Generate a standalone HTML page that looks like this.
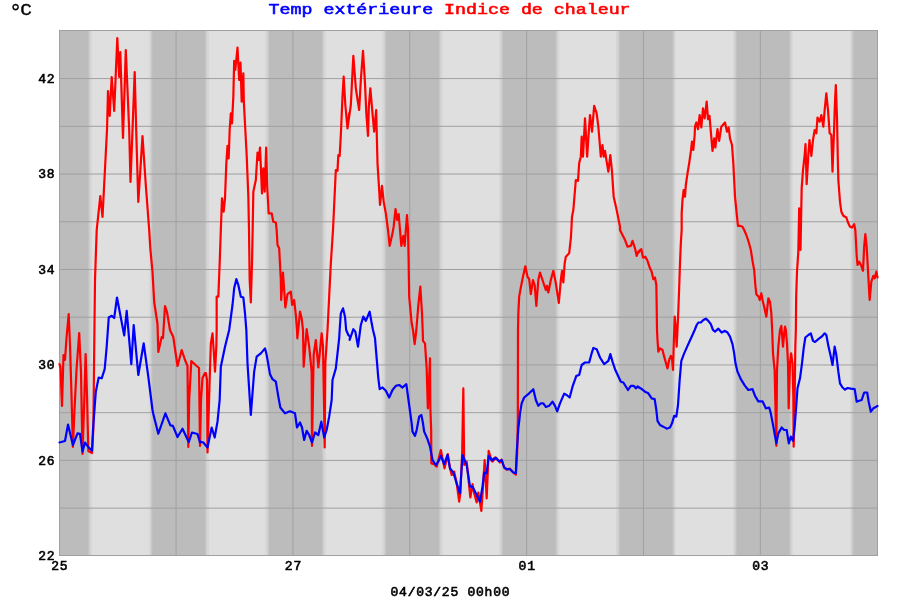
<!DOCTYPE html>
<html lang="fr"><head><meta charset="utf-8"><title>Temp extérieure / Indice de chaleur</title>
<style>
html,body{margin:0;padding:0;background:#fff;}
body{width:900px;height:600px;overflow:hidden;position:relative;font-family:"Liberation Mono",monospace;font-weight:bold;}
svg{position:absolute;left:0;top:0;display:block;}
text{font-family:"Liberation Mono",monospace;font-weight:normal;}
.ax{font-size:14px;fill:#000;}
.tt{font-size:18.3px;}
</style></head><body>
<svg width="900" height="600" viewBox="0 0 900 600">
<defs>
<linearGradient id="dl" x1="0" x2="1" y1="0" y2="0"><stop offset="0" stop-color="#bcbcbc"/><stop offset="1" stop-color="#dfdfdf"/></linearGradient>
<linearGradient id="ld" x1="0" x2="1" y1="0" y2="0"><stop offset="0" stop-color="#dfdfdf"/><stop offset="1" stop-color="#bcbcbc"/></linearGradient>
<clipPath id="cp"><rect x="59" y="30" width="819" height="526"/></clipPath>
</defs>
<rect x="0" y="0" width="900" height="600" fill="#ffffff"/>
<rect x="59" y="30" width="819" height="526" fill="#bcbcbc"/>
<g clip-path="url(#cp)">
<rect x="87.7" y="30" width="4" height="526" fill="url(#dl)"/>
<rect x="91.7" y="30" width="57.2" height="526" fill="#dfdfdf"/>
<rect x="148.9" y="30" width="4" height="526" fill="url(#ld)"/>
<rect x="204.557" y="30" width="4" height="526" fill="url(#dl)"/>
<rect x="208.557" y="30" width="57.2" height="526" fill="#dfdfdf"/>
<rect x="265.757" y="30" width="4" height="526" fill="url(#ld)"/>
<rect x="321.414" y="30" width="4" height="526" fill="url(#dl)"/>
<rect x="325.414" y="30" width="57.2" height="526" fill="#dfdfdf"/>
<rect x="382.614" y="30" width="4" height="526" fill="url(#ld)"/>
<rect x="438.271" y="30" width="4" height="526" fill="url(#dl)"/>
<rect x="442.271" y="30" width="57.2" height="526" fill="#dfdfdf"/>
<rect x="499.471" y="30" width="4" height="526" fill="url(#ld)"/>
<rect x="555.129" y="30" width="4" height="526" fill="url(#dl)"/>
<rect x="559.129" y="30" width="57.2" height="526" fill="#dfdfdf"/>
<rect x="616.329" y="30" width="4" height="526" fill="url(#ld)"/>
<rect x="671.986" y="30" width="4" height="526" fill="url(#dl)"/>
<rect x="675.986" y="30" width="57.2" height="526" fill="#dfdfdf"/>
<rect x="733.186" y="30" width="4" height="526" fill="url(#ld)"/>
<rect x="788.843" y="30" width="4" height="526" fill="url(#dl)"/>
<rect x="792.843" y="30" width="57.2" height="526" fill="#dfdfdf"/>
<rect x="850.043" y="30" width="4" height="526" fill="url(#ld)"/>
</g>
<g fill="#a0a0a0"><rect x="60" y="507.62" width="817" height="1"/><rect x="60" y="459.90" width="817" height="1"/><rect x="60" y="412.17" width="817" height="1"/><rect x="60" y="364.44" width="817" height="1"/><rect x="60" y="316.71" width="817" height="1"/><rect x="60" y="268.99" width="817" height="1"/><rect x="60" y="221.26" width="817" height="1"/><rect x="60" y="173.53" width="817" height="1"/><rect x="60" y="125.80" width="817" height="1"/><rect x="60" y="78.08" width="817" height="1"/><rect x="175.56" y="31" width="1" height="524"/><rect x="292.41" y="31" width="1" height="524"/><rect x="409.27" y="31" width="1" height="524"/><rect x="526.13" y="31" width="1" height="524"/><rect x="642.99" y="31" width="1" height="524"/><rect x="759.84" y="31" width="1" height="524"/></g>

<g fill="#a0a0a0" shape-rendering="crispEdges"><rect x="59" y="30" width="819" height="1"/><rect x="59" y="555" width="819" height="1"/><rect x="59" y="30" width="1" height="526"/><rect x="877" y="30" width="1" height="526"/></g>
<path d="M59.5,364 L60.5,368 L62,406 L63.5,355 L65,360 L66.5,338 L68.7,314 L70,345 L71.5,395 L72.9,447 L74.5,410 L76.5,370 L79.2,333 L81,372 L82.5,454 L84.3,400 L85.6,354 L87,395 L88.3,451 L92,453 L93.3,430 L94.2,350 L95,280 L96.7,230 L100.3,196 L102.5,217 L107,130 L108,91 L109.7,116 L111.7,77 L114.2,111 L117.3,38 L119.2,77 L120.3,52 L123,138 L125.8,50 L129.2,130 L130.5,182 L132.5,130 L134.7,72 L136.2,130 L138.3,202 L142.5,136 L145.8,185 L149.2,230 L150.3,248 L152.5,272 L154.2,302 L157.5,324 L158.3,352 L161.7,337 L163,338 L165,306 L167,312 L170,330 L173.3,337 L177.5,366 L181.7,350 L185,360 L187.5,366 L188.3,447 L189.2,400 L191.3,361 L196.7,366 L199,368 L200,446 L201,400 L202.5,378 L205,373 L205.83,373 L207,380 L207.5,452.5 L209.67,380 L210.83,343.33 L212.5,333.33 L213.67,350 L215,371.67 L216.33,346.67 L216.67,330 L216.67,296.67 L218.33,296.67 L219.67,263.33 L220.83,230 L222,198.33 L223.67,211.67 L225,198.33 L226.33,163.33 L227.5,145.83 L228.67,158.33 L229.67,130 L230.83,113.33 L232,123.33 L233.33,96.67 L234.17,60.83 L235.33,70 L237.5,47.5 L239.17,80 L240.5,62.5 L241.67,101.67 L243.33,73.33 L243.83,101.67 L245.33,130 L246.67,155 L248.33,196.67 L249,230 L249.67,280 L250.83,302.5 L252,263.33 L252.67,230 L253.33,191.67 L255.83,180 L257.5,152.5 L258.67,160 L260,147.5 L262,193.33 L263.33,168.33 L264.67,191.67 L266.17,147.5 L267.17,186.67 L268.67,213.33 L271.67,213.33 L273.33,221.67 L275.83,222.5 L276.67,230 L277.5,245 L279.17,248.33 L280.83,280 L281.17,300 L283,272.5 L284.17,290 L285.33,307.5 L287.5,294.17 L290.83,291.67 L292.17,305 L294.17,300 L295.83,315 L297,330 L297.33,338.33 L300,311.67 L301.67,318.33 L303,330 L303.67,366.67 L306.67,329.17 L309.17,346.67 L311.67,371.67 L312,446 L313.67,355 L315.83,340 L318.33,367.5 L321.67,333.33 L323,346.67 L324.7,447.5 L325.33,363.33 L327.5,330 L329.17,296.67 L330.83,263.33 L333,230 L334.17,205 L335.83,170 L337.5,170.83 L338.33,155 L339.67,155.83 L340.83,135 L342.5,96.67 L343.67,76.67 L345.33,105 L347.5,128.33 L349.17,113.33 L347.5,128.33 L350.83,105 L353.33,55.83 L355.83,88.33 L359.17,110 L360.83,80 L363,50.83 L365,83.33 L366.33,113.33 L368,135.83 L368.83,106.67 L370.33,88.33 L372.5,113.33 L374.17,131.67 L376.17,110 L376.67,130 L377.5,163.33 L379.17,190 L380,205 L382,185.83 L383.67,201.67 L385.83,213.33 L388,230 L389.67,245.83 L392.5,233.33 L393.67,226.67 L395.5,209.17 L397.17,220 L398.67,214.17 L400,230 L401.33,245.83 L403.33,235.83 L404.67,245.83 L405.83,230 L407,215 L408,230 L408.67,263.33 L409.17,296.67 L411.67,323.33 L413,330 L414.67,344.17 L416.33,330 L418.33,305 L420.33,286.67 L422,313.33 L422.67,330 L423,340.83 L425,343.33 L426.67,368.33 L427.83,408.33 L430,358.33 L430.33,406.67 L431.17,430 L431.33,463.33 L434.17,464.17 L436.67,466.67 L440.83,450 L444.5,468.33 L447.83,454.17 L450,468.33 L451.67,475 L454.17,471.67 L456.67,483.33 L459.17,501.67 L460.33,493.33 L462.17,453.33 L463.33,388.33 L464.17,465 L466.67,461.67 L470.33,497.5 L472.5,484.17 L474.17,493.33 L476.67,502.5 L478.33,492.5 L481.33,510.83 L483,486.67 L484.67,460 L486.67,498.33 L488.67,450.83 L491.67,460.83 L495,457.5 L492.5,461.67 L495.83,457.5 L500,462.5 L501.67,459.67 L504.17,467.5 L506.67,469.67 L510,468.67 L513.33,472.5 L515.83,474.67 L517.17,453.33 L517.83,420 L518,330 L518.33,313.33 L519.17,296.67 L520.83,287.5 L523.33,275 L525.33,266.33 L527.5,276.67 L529.17,279.17 L530.83,294.17 L533,280 L534.67,285 L536.33,305.83 L538.33,280 L540,272.5 L542.5,280 L545.83,290 L547,285.83 L548.33,292.5 L550.83,280 L553.33,270.83 L555.83,283.33 L558.83,303 L560.83,280 L562,270.83 L563.33,282.5 L564.67,263.33 L565.83,256.67 L569.17,253.33 L570.83,238.33 L571.33,230 L572,216.67 L573.33,210 L575.83,180 L578,180.83 L579.17,163.33 L580.83,156.67 L581.67,136.67 L583,156.67 L585,118.33 L587.17,156.67 L588.67,133.33 L590,115 L592,131.67 L594.17,105.83 L596.67,113.33 L598.33,126.67 L600.83,156.67 L602.5,145 L603.67,156.67 L605,150.83 L606.67,161.67 L608.33,171.67 L610.33,155 L612,171.67 L613.67,196.67 L616.67,210 L620,226.67 L620,230 L622.5,235 L624.67,239.17 L627.5,246.67 L630.83,245.83 L632.5,240.83 L635,248.33 L636.67,255.83 L638.33,251.67 L640,250.83 L637,254.17 L639.17,250.83 L641.33,249.17 L643,257.5 L645.33,256.67 L647.5,260.83 L650,268.33 L651.67,271.67 L653.33,279.17 L655,277.5 L656.33,285 L656.67,305 L657,330 L657.5,340 L658.33,351.67 L660,348.33 L662.5,350 L664.17,356.67 L665.83,362.5 L667.5,368.33 L669.17,360 L670.83,355.83 L672,358.33 L673,370 L673.67,346.67 L674.67,316.67 L675.83,328.33 L676.67,346.67 L677.5,330 L678.33,310 L679.17,288.33 L680,263.33 L680.83,243.33 L681.67,230 L681.67,213.33 L682.5,200 L683.67,190 L685,196.67 L685.83,185 L687.5,173.33 L689.17,163.33 L690.83,151.67 L692,141.67 L693.33,150 L694.67,135 L695,126.67 L696.33,122.5 L698,129.17 L699.67,115 L701.33,127.5 L703,108.33 L704.67,118.33 L706.67,101.67 L708,119.17 L709.5,115.83 L710.83,131.67 L712.5,150.83 L714.17,138.33 L715.33,147.5 L717.5,129.17 L719.17,140.83 L721.33,126.67 L725,122.5 L727,131.67 L728.67,127.5 L730,138.33 L732,145 L733.33,163.33 L734.17,180 L735,196.67 L736.67,213.33 L738,225.83 L740,225.83 L742.5,226.67 L744.17,230 L746.33,235 L748.33,240.83 L750.83,250 L752.5,260.83 L754.17,270 L755.33,285 L756.33,294.17 L758.67,296.67 L759.67,300 L761.33,293.33 L762.5,300 L764.17,306.67 L766.33,316.67 L768.33,298.33 L770,301.67 L771.33,313.33 L772.17,330 L773,353.33 L774.67,370.83 L776.33,445.83 L777,370 L778.33,346.67 L780,330 L781.33,325.83 L783,346.67 L784.17,333.33 L785,326.67 L785.83,330 L787,343.33 L788,363.33 L788.67,408.33 L790,363.33 L791.17,353.33 L792.5,363.33 L793.33,396.67 L793.67,446.67 L794.67,396.67 L795.33,346.67 L795.83,330 L796.17,296.67 L797,271.67 L798.33,251.67 L799.17,208.33 L800.5,250 L801.67,188.33 L803,170 L804.67,155 L805.5,144.17 L806.67,184.17 L808.33,155 L809.5,140 L811.33,155.83 L813,140 L814.67,130 L816.33,133.33 L817.5,117.5 L819.67,121.67 L821.33,115 L823.33,126.67 L824.67,110 L826.33,93.33 L828,110 L829.67,133.33 L831.33,135 L832.5,171.67 L834.17,126.67 L835,101.67 L835.83,85 L837,118.33 L837.83,160 L838.33,180 L840,201.67 L841.33,211.67 L843.33,215.83 L846.33,217.5 L848.33,223.33 L850,226.67 L852,227.5 L854.17,224.17 L855.33,230 L856.67,255 L857.5,265 L859.17,261.67 L861.33,265.83 L863,270.83 L864.17,246.67 L865.33,234.17 L866.67,246.67 L868.33,276.67 L869.67,300 L871.33,281.67 L873.33,275.83 L874.67,278.33 L876.33,271.67 L877.5,277.5" fill="none" stroke="#ff0000" stroke-width="2.2" stroke-linejoin="round" stroke-linecap="round"/>
<path d="M59.5,442.5 L65,441 L68,424.6 L72.9,445 L77.5,433.3 L80,433.75 L82.5,451.7 L85,442.5 L88,446.7 L92,450.8 L93,430 L95.8,391.7 L98.7,377.5 L101.7,378.3 L104.7,369 L106.7,346.7 L108.75,317.5 L111.7,315.8 L114.2,318 L117,297.5 L124.2,335.4 L126.7,310.8 L131.3,364.2 L133.7,325 L138.3,375 L143.7,343.3 L148.3,376.7 L152.5,410 L153.3,414 L158.3,433.75 L165.4,413.3 L170.4,425.4 L172.9,425.8 L177.5,437 L182.5,428.75 L188.75,442 L192,432.5 L197.5,434 L200,442.5 L200,441.67 L203.33,442.5 L207.5,447.5 L211.67,427.5 L214.67,437.5 L217.5,421.67 L219.67,400 L220.83,366.67 L225,346.67 L229.17,330 L232.5,305 L234.17,288.33 L236.33,279.17 L238.33,285 L240.83,296.67 L243.33,297.5 L245,313.33 L246.33,330 L247.5,363.33 L250.83,415 L254.17,371.67 L256.67,356.67 L260.83,353.33 L265,348.33 L266.67,355 L270,374.17 L272.5,379.17 L275.83,381.67 L278.33,396.67 L280.33,407.5 L285,413.33 L290,411.33 L295,413.33 L297,427.5 L300,422.5 L302,427.5 L304.17,440 L306.67,430.83 L309.17,435 L312,442.5 L315,432.5 L318.33,435 L321.33,421.67 L324.17,437.5 L326.67,430 L329.17,416.67 L331.67,400 L332.5,380 L335.83,368.33 L339.17,338.33 L339.67,330 L340.83,313.33 L343,308.33 L345,316.67 L346.17,330 L348.33,335 L350,336.67 L349.67,340 L353.33,329.17 L355.33,331.67 L358,346.67 L360.83,325 L363.33,316.67 L365.83,320.83 L369.67,311.67 L371.67,323.33 L373,330 L375,338.33 L376.67,358.33 L378.33,378.33 L379.67,389.17 L382.5,387.5 L385.83,390.83 L389.17,397.5 L392.5,390 L395.83,385.83 L399.17,385 L402.5,387.5 L406.33,384.17 L409.17,405 L411.67,423.33 L412.5,431.67 L415,435.83 L416.67,430 L419.17,416.67 L421.33,415 L423,423.33 L424.17,431.67 L427.5,439.17 L430,446.67 L432.5,460 L435.83,465 L438.33,461.67 L440.83,455.83 L444.17,464.17 L447.5,455 L450,468.33 L453.33,472.5 L456.67,483.33 L460,493.33 L462.5,455 L466.67,465 L470,486.67 L472.5,486.67 L476.67,495 L480,501.67 L482.5,486.67 L484.17,472.5 L486.67,473.33 L488.67,455.83 L491.67,460 L495,458.33 L492.5,460 L495.83,458 L499.17,461.33 L501.67,460 L504.17,467.5 L506.67,469.17 L510,469.17 L513.33,472.5 L515.83,473.33 L516.67,453.33 L518.33,428.33 L519.33,420 L520,413.33 L521.67,403.33 L524.17,397.5 L529.17,393.33 L533.33,389.17 L535.83,400 L538.33,405.83 L540.83,403.33 L543.33,403.33 L545.83,407 L549.17,405.83 L552.5,401.67 L555,405.83 L557.17,411.33 L560,403.33 L564.17,393.67 L566.67,395 L569.67,397.5 L572.5,386.67 L576.33,375.83 L579.17,375 L581.67,365 L585,362.5 L589.17,362.5 L591.67,353.33 L593.33,348 L596.67,349.17 L600,357.5 L604.17,364.17 L608.33,360.83 L610.33,354.17 L612.5,361.67 L615,369.17 L620.83,381.67 L623.33,382.5 L628,390 L630.83,385.83 L633.67,385.83 L635.83,388.33 L637.5,386.67 L640,388 L637.5,386.33 L640.83,388.33 L645,391.67 L648.33,393.33 L651.67,398.33 L654.67,399.17 L656.33,410 L657.5,420.83 L660,425 L663.33,426.67 L666.67,428.67 L670,427.5 L672,423.33 L674.17,415.83 L676.33,416.67 L678,405 L679.67,380 L681.33,360.83 L684.17,353.33 L687.5,345.83 L691.67,336.67 L694.67,330 L696.67,325 L698.33,322.5 L700.83,322.5 L703.33,320 L705.83,318.67 L708.33,320.83 L710.83,324.17 L713,330 L715,331.67 L718.33,328.67 L721.67,332.5 L725,330.83 L727.5,332.5 L730,336.67 L732.5,344.17 L734.17,353.33 L735.5,363.33 L737.5,371.67 L740.83,379.17 L745,385.83 L748.33,390 L752.5,389.17 L755,395.83 L758.33,401.33 L762.5,401.33 L765.83,408.33 L769.17,407.5 L770.83,413.33 L773.33,426.67 L776.33,443.33 L778.33,433.33 L781.67,427.5 L784.17,430 L786.67,430 L788.83,443.33 L790.83,436.67 L793,440.83 L794.67,426.67 L796.33,405 L797.5,388.33 L800,378.33 L802,363.33 L803.67,348.33 L805.33,337.5 L808.33,335 L810.83,333.33 L813,340.83 L815,342 L818.33,339.17 L821.67,336.67 L824.67,333.33 L826.33,335 L828.33,345.83 L830.83,356.67 L832.5,365 L834.67,346.67 L836.33,355 L838.33,371.67 L840,383.33 L842.5,387.5 L845,389.67 L847.5,388 L850.83,388.67 L854.67,389.17 L856.67,401.67 L859.17,400.83 L861.67,400 L864.17,392.5 L867.17,392.5 L868.67,401.67 L870.83,411.67 L873.33,408.33 L876.33,406.67 L877.5,405.83" fill="none" stroke="#0000ff" stroke-width="2.2" stroke-linejoin="round" stroke-linecap="round"/>
<g fill="#000" stroke="#000" stroke-width="0.4"><text x="8.9" y="18.5" font-size="22">°</text><text transform="translate(20.2,14.6) scale(1.04,0.84)" font-size="18.6">C</text></g>
<text transform="translate(268.6,14.4) scale(1,0.75)" font-size="18.3" stroke-width="0.7"><tspan fill="#0000ff" stroke="#0000ff">Temp extérieure</tspan><tspan fill="#ff0000" stroke="#ff0000"> Indice de chaleur</tspan></text>
<text transform="translate(55.3,83.0273) scale(1,1)" font-size="13" letter-spacing="0.75" text-anchor="end" fill="#000" stroke="#000" stroke-width="0.6">42</text>
<text transform="translate(55.3,178.482) scale(1,1)" font-size="13" letter-spacing="0.75" text-anchor="end" fill="#000" stroke="#000" stroke-width="0.6">38</text>
<text transform="translate(55.3,273.936) scale(1,1)" font-size="13" letter-spacing="0.75" text-anchor="end" fill="#000" stroke="#000" stroke-width="0.6">34</text>
<text transform="translate(55.3,369.391) scale(1,1)" font-size="13" letter-spacing="0.75" text-anchor="end" fill="#000" stroke="#000" stroke-width="0.6">30</text>
<text transform="translate(55.3,464.845) scale(1,1)" font-size="13" letter-spacing="0.75" text-anchor="end" fill="#000" stroke="#000" stroke-width="0.6">26</text>
<text transform="translate(55.3,560.3) scale(1,1)" font-size="13" letter-spacing="0.75" text-anchor="end" fill="#000" stroke="#000" stroke-width="0.6">22</text>
<text transform="translate(59.7,569.8) scale(1,1)" font-size="13" letter-spacing="0.75" text-anchor="middle" fill="#000" stroke="#000" stroke-width="0.6">25</text>
<text transform="translate(293.414,569.8) scale(1,1)" font-size="13" letter-spacing="0.75" text-anchor="middle" fill="#000" stroke="#000" stroke-width="0.6">27</text>
<text transform="translate(527.129,569.8) scale(1,1)" font-size="13" letter-spacing="0.75" text-anchor="middle" fill="#000" stroke="#000" stroke-width="0.6">01</text>
<text transform="translate(760.843,569.8) scale(1,1)" font-size="13" letter-spacing="0.75" text-anchor="middle" fill="#000" stroke="#000" stroke-width="0.6">03</text>
<text transform="translate(450.4,595.8) scale(1,1)" font-size="13" letter-spacing="0.75" text-anchor="middle" fill="#000" stroke="#000" stroke-width="0.6">04/03/25 00h00</text>
</svg>
</body></html>
